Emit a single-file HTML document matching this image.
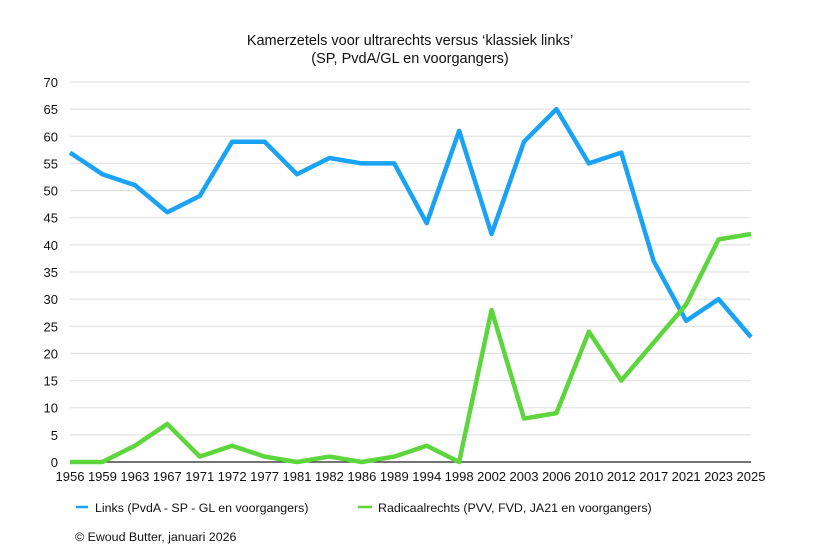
<!DOCTYPE html>
<html><head><meta charset="utf-8"><style>
body{margin:0;background:#fff;}
svg{display:block;font-family:"Liberation Sans",Arial,sans-serif;}
</style></head><body>
<svg id="s" width="840" height="555" viewBox="0 0 840 555" xmlns="http://www.w3.org/2000/svg">
<text x="410" y="45" text-anchor="middle" font-size="14.5" fill="#111">Kamerzetels voor ultrarechts versus ‘klassiek links’</text>
<text x="410" y="63" text-anchor="middle" font-size="14.5" fill="#111">(SP, PvdA/GL en voorgangers)</text>
<g id="grid"></g>
<g id="lab" font-size="13" fill="#111"></g>
<polyline id="l1" fill="none" stroke="#1aa3f5" stroke-width="4.5" stroke-linejoin="round"/>
<polyline id="l2" fill="none" stroke="#5cd63c" stroke-width="4.5" stroke-linejoin="round"/>
<line x1="76" y1="507" x2="88" y2="507" stroke="#1aa3f5" stroke-width="2.5"/>
<text x="95" y="512" font-size="12.4" fill="#111">Links (PvdA - SP - GL en voorgangers)</text>
<line x1="358" y1="507" x2="372" y2="507" stroke="#5cd63c" stroke-width="2.5"/>
<text x="378" y="512" font-size="12.4" fill="#111">Radicaalrechts (PVV, FVD, JA21 en voorgangers)</text>
<text x="75" y="541" font-size="12.4" fill="#111">© Ewoud Butter, januari 2026</text>
</svg>
<script>
var ns="http://www.w3.org/2000/svg";
var yrs=[1956,1959,1963,1967,1971,1972,1977,1981,1982,1986,1989,1994,1998,2002,2003,2006,2010,2012,2017,2021,2023,2025];
var a=[57,53,51,46,49,59,59,53,56,55,55,44,61,42,59,65,55,57,37,26,30,23];
var b=[0,0,3,7,1,3,1,0,1,0,1,3,0,28,8,9,24,15,22,29,41,42];
function X(i){return 70+i*(751-70)/21;}
function Y(v){return 462-v*380/70;}
var g=document.getElementById('grid'),L=document.getElementById('lab');
for(var v=0;v<=70;v+=5){
 var l=document.createElementNS(ns,'line');
 l.setAttribute('x1',70);l.setAttribute('x2',751);l.setAttribute('y1',Y(v));l.setAttribute('y2',Y(v));
 l.setAttribute('stroke',v==0?'#222':'#ddd');l.setAttribute('stroke-width',v==0?1.2:1);g.appendChild(l);
 var t=document.createElementNS(ns,'text');t.setAttribute('x',58);t.setAttribute('y',Y(v)+5);
 t.setAttribute('text-anchor','end');t.textContent=v;L.appendChild(t);
}
yrs.forEach(function(y,i){var t=document.createElementNS(ns,'text');t.setAttribute('x',X(i));t.setAttribute('y',481);
 t.setAttribute('text-anchor','middle');t.textContent=y;L.appendChild(t);});
document.getElementById('l1').setAttribute('points',a.map(function(v,i){return X(i)+','+Y(v)}).join(' '));
document.getElementById('l2').setAttribute('points',b.map(function(v,i){return X(i)+','+Y(v)}).join(' '));
</script>
</body></html>
